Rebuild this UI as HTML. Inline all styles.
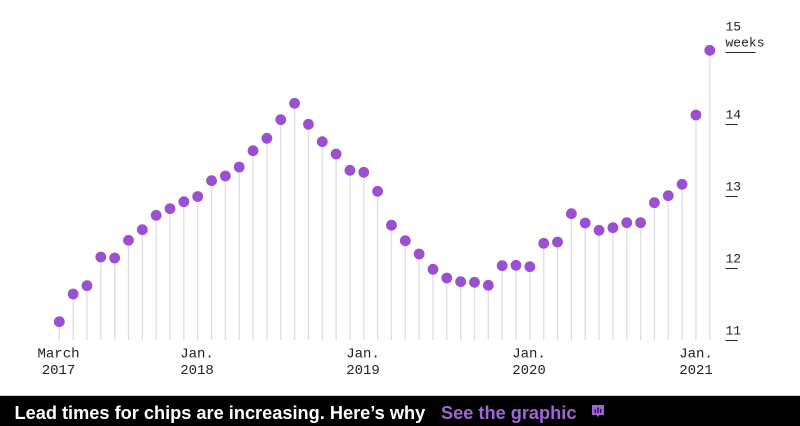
<!DOCTYPE html>
<html>
<head>
<meta charset="utf-8">
<style>
  html,body{margin:0;padding:0;background:#fff;}
  body{width:800px;height:426px;overflow:hidden;position:relative;}
  svg{display:block;}
</style>
</head>
<body>
<svg width="800" height="426" viewBox="0 0 800 426" xmlns="http://www.w3.org/2000/svg">
  <rect x="0" y="0" width="800" height="426" fill="#ffffff"/>
  <g id="stems" stroke="#dedede" stroke-width="1.3"></g>
  <g id="dots" fill="#9b50d0"></g>

  <!-- right axis labels -->
  <g font-family="'Liberation Mono', monospace" font-size="13" fill="#222">
    <text x="725.5" y="30.7">15</text>
    <text x="725.5" y="46.7">weeks</text>
    <text x="725.5" y="118.5">14</text>
    <text x="725.5" y="190.5">13</text>
    <text x="725.5" y="262.5">12</text>
    <text x="725.5" y="334.5">11</text>
  </g>
  <g stroke="#222" stroke-width="1">
    <line x1="725.5" y1="52.5" x2="755.5" y2="52.5"/>
    <line x1="725.5" y1="124.5" x2="737.5" y2="124.5"/>
    <line x1="725.5" y1="196.5" x2="737.5" y2="196.5"/>
    <line x1="725.5" y1="268.5" x2="737.5" y2="268.5"/>
    <line x1="725.5" y1="340.5" x2="737.5" y2="340.5"/>
  </g>

  <!-- bottom labels -->
  <g font-family="'Liberation Mono', monospace" font-size="14" fill="#222" text-anchor="middle">
    <text x="58.5" y="357.5">March</text>
    <text x="58.5" y="374">2017</text>
    <text x="197" y="357.5">Jan.</text>
    <text x="197" y="374">2018</text>
    <text x="363" y="357.5">Jan.</text>
    <text x="363" y="374">2019</text>
    <text x="529" y="357.5">Jan.</text>
    <text x="529" y="374">2020</text>
    <text x="696" y="357.5">Jan.</text>
    <text x="696" y="374">2021</text>
  </g>

  <!-- footer band -->
  <rect x="0" y="395" width="800" height="1" fill="#cfcfcf"/>
  <rect x="0" y="396" width="800" height="30" fill="#000"/>
  <text x="14.5" y="419" font-family="'Liberation Sans', Arial, sans-serif" font-weight="bold" font-size="18.2" fill="#ffffff">Lead times for chips are increasing. Here’s why</text>
  <text x="441" y="419" font-family="'Liberation Sans', Arial, sans-serif" font-weight="bold" font-size="18.2" fill="#a065d8">See the graphic</text>
  <!-- icon -->
  <path d="M592 405 H604 V415 H599.5 L598 417 L596.5 415 H592 Z" fill="#a065d8"/>
  <g fill="#2a0f3a">
    <rect x="594.6" y="409.5" width="1.4" height="3.5"/>
    <rect x="597.3" y="407.5" width="1.4" height="5.5"/>
    <rect x="600" y="409" width="1.4" height="4"/>
  </g>
</svg>
<script>
(function(){
  var ys=[321.7,294,285.7,257,258,240.3,229.7,215.3,208.7,201.7,196.5,180.7,176,167,150.7,138.3,119.7,103.3,124.3,141.7,154,170.3,172.3,191.3,225.2,240.7,254,269.3,278,281.7,282.3,285.3,265.7,265.3,266.7,243.3,242,213.7,223,230.3,227.7,222.7,222.7,202.7,195.7,184.3,115,50.3];
  var ns="http://www.w3.org/2000/svg";
  var stems=document.getElementById('stems');
  var dots=document.getElementById('dots');
  for(var i=0;i<ys.length;i++){
    var x=59.3+i*13.84;
    var l=document.createElementNS(ns,'line');
    l.setAttribute('x1',x);l.setAttribute('x2',x);
    l.setAttribute('y1',ys[i]);l.setAttribute('y2',340);
    stems.appendChild(l);
    var c=document.createElementNS(ns,'circle');
    c.setAttribute('cx',x);c.setAttribute('cy',ys[i]);c.setAttribute('r',5.4);
    dots.appendChild(c);
  }
})();
</script>
</body>
</html>
